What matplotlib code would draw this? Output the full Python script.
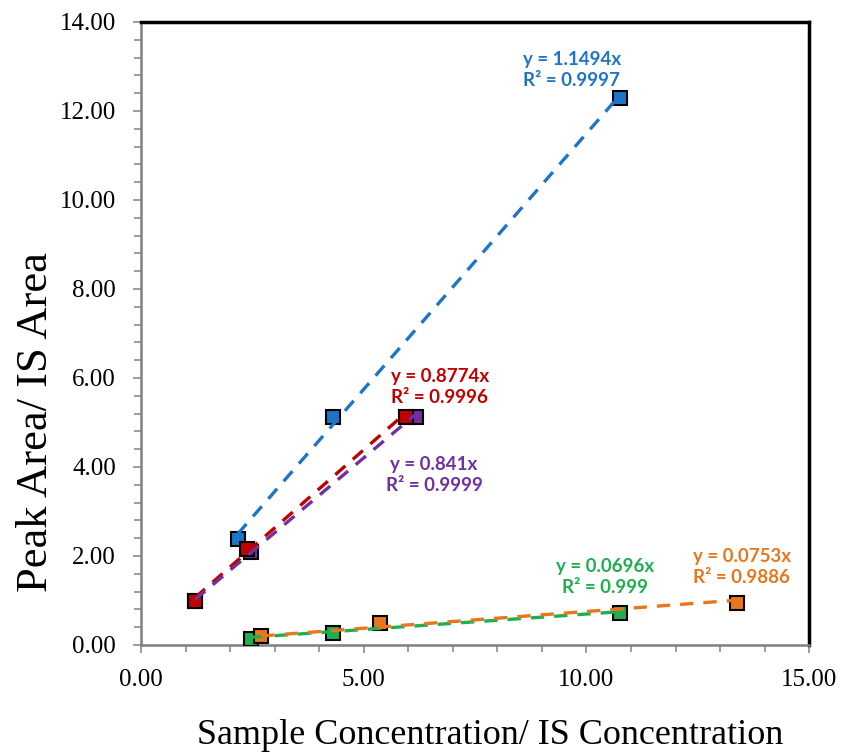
import numpy as np
import matplotlib
matplotlib.use("Agg")
import matplotlib.pyplot as plt
from matplotlib.ticker import MultipleLocator, FormatStrFormatter

# series data (sample conc / IS conc, peak area / IS area)
blue_x = [2.17, 4.32, 10.76]
blue_y = [2.38, 5.12, 12.29]
red_x = [1.21, 2.39, 5.95]
red_y = [0.99, 2.16, 5.12]
purple_x = [1.21, 2.48, 6.17]
purple_y = [0.99, 2.09, 5.12]
green_x = [2.48, 4.30, 10.76]
green_y = [0.13, 0.27, 0.72]
orange_x = [2.70, 5.37, 13.38]
orange_y = [0.20, 0.49, 0.94]

slopes = [1.1494, 0.8774, 0.841, 0.0696, 0.0753]
r2 = ["0.9997", "0.9996", "0.9999", "0.999", "0.9886"]
slope_txt = ["1.1494", "0.8774", "0.841", "0.0696", "0.0753"]

colors = ["#1f74c6", "#c00000", "#7030a0", "#1fae50", "#e8761c"]
text_pos = [(9.67, 12.92), (6.71, 5.80), (6.58, 3.82), (10.42, 1.53), (13.49, 1.75)]

xs = [blue_x, red_x, purple_x, green_x, orange_x]
ys = [blue_y, red_y, purple_y, green_y, orange_y]
marker_z = [3, 4, 3, 3, 3]

fig = plt.figure(figsize=(8.42, 7.55), dpi=100)
ax = fig.add_axes([0.1675, 0.1457, 0.7935, 0.8252])

for i in range(5):
    ax.plot(xs[i], ys[i], linestyle="none", marker="s", markersize=10,
            markerfacecolor=colors[i], markeredgecolor="black",
            markeredgewidth=1.5, zorder=marker_z[i])
    t = np.array([min(xs[i]), max(xs[i])])
    ax.plot(t, slopes[i] * t, linestyle=(0, (4, 3)), color=colors[i],
            linewidth=2.4, zorder=5)
    ax.text(text_pos[i][0], text_pos[i][1],
            "y = " + slope_txt[i] + "x\nR² = " + r2[i],
            color=colors[i], fontsize=13.5, fontweight="bold", family="Lato",
            ha="center", va="center", linespacing=1.3, zorder=6)

ax.set_xlim(0, 15)
ax.set_ylim(0, 14)
ax.xaxis.set_major_locator(MultipleLocator(5))
ax.xaxis.set_minor_locator(MultipleLocator(1))
ax.yaxis.set_major_locator(MultipleLocator(2))
ax.yaxis.set_minor_locator(MultipleLocator(0.4))
ax.xaxis.set_major_formatter(FormatStrFormatter("%.2f"))
ax.yaxis.set_major_formatter(FormatStrFormatter("%.2f"))

for s in ["top", "right"]:
    ax.spines[s].set_color("black")
    ax.spines[s].set_linewidth(2.5)
for s in ["left", "bottom"]:
    ax.spines[s].set_color("#7f7f7f")
    ax.spines[s].set_linewidth(1.8)

ax.tick_params(which="both", direction="out", color="#8c8c8c", width=1.2)
ax.tick_params(which="major", length=6, labelsize=18)
ax.tick_params(axis="x", which="major", pad=11)
ax.tick_params(axis="y", which="major", pad=12)
ax.tick_params(which="minor", length=5)
for lab in ax.get_xticklabels() + ax.get_yticklabels():
    lab.set_family("Liberation Serif")

ax.set_xlabel("Sample Concentration/ IS Concentration", fontsize=26,
              family="Liberation Serif")
ax.set_ylabel("Peak Area/ IS Area", fontsize=32, family="Liberation Serif")
ax.xaxis.set_label_coords(0.522, -0.118)
ax.yaxis.set_label_coords(-0.128, 0.358)

fig.savefig("out.png", dpi=100)
